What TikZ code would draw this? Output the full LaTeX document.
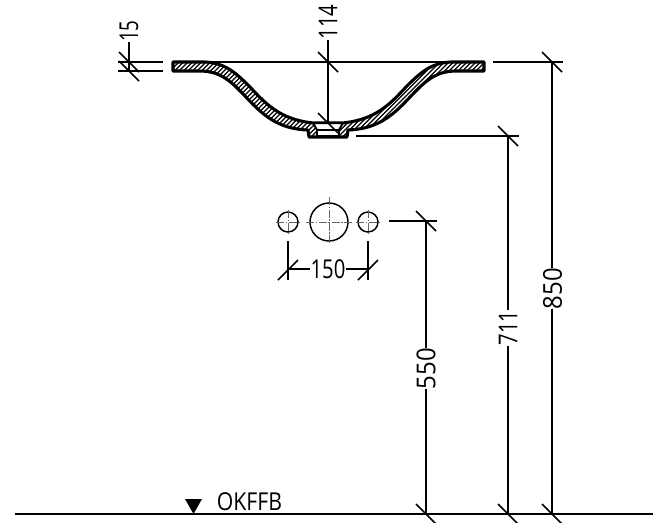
\documentclass[tikz,border=0pt]{standalone}
\usepackage{fontspec}
\setmainfont{Open Sans}
\newfontface\wdigits[FakeStretch=0.92]{Open Sans}
\newfontface\ndigits[FakeStretch=0.78]{Open Sans}
\newfontface\xdigits[FakeStretch=0.72]{Open Sans}
\newfontface\lettersface[FakeStretch=0.86]{Open Sans}
\begin{document}
\begin{tikzpicture}[x=0.75pt,y=-0.75pt,
  dimline/.style={line width=1.5pt,black},
  dimtick/.style={line width=1.2pt,black},
  profile/.style={line width=2.3pt,black,line join=round},
  funnel/.style={line width=1.5pt,black,fill=white,line join=round},
  axisline/.style={line width=0.5pt,gray!80!black,dash pattern=on 6pt off 1.2pt on 1.2pt off 1.2pt},
  hatchline/.style={line width=1pt,black},
  hole/.style={circle,draw,line width=1.1pt,inner sep=0pt},
  dimtext/.style={inner sep=0pt,font=\fontsize{19.5pt}{21pt}},
  vtext/.style={dimtext,rotate=90,anchor=center}]
\useasboundingbox (0,0) rectangle (653,522);
\def\basinprofile{(173,62) -- (205,62) .. controls (225,63) and (235,72) .. (250,87)
  .. controls (265,103) and (280,120) .. (314,123) -- (316,123) -- (340,123) -- (342,123)
  .. controls (376,120) and (391,103) .. (406,87) .. controls (421,72) and (431,63) .. (451,62)
  -- (484,62) -- (484,71) -- (457,71) .. controls (438,71) and (428,78) .. (412,95)
  .. controls (395,113) and (380,129) .. (348,130) -- (347,137) -- (309,137) -- (308,130)
  .. controls (276,129) and (261,113) .. (244,95) .. controls (228,78) and (218,71) .. (199,71)
  -- (173,71) -- cycle}
\begin{scope}
  \clip \basinprofile;
  \foreach \k in {-100,-95.5,...,300}{
    \draw[hatchline] (160+\k,145) -- (260+\k,45);
  }
\end{scope}
\draw[profile] \basinprofile;
\draw[funnel] (313,123) -- (343,123) -- (339,130) -- (317,130) -- cycle;
\draw[funnel] (317,130) rectangle (339,136);
% upper surface line
\coordinate (rimL) at (205,62);
\coordinate (rimR) at (451,62);
\draw[dimline] (rimL) -- (rimR);
% ground
\coordinate (g0) at (15,514);
\coordinate (g1) at (653,514);
\draw[dimline] (g0) -- (g1);
\fill[black] (185,499) -- (202,499) -- (193.5,514) -- cycle;
\node[inner sep=0pt,anchor=center,font=\fontsize{18.5pt}{19pt}\lettersface] (okffb) at (249.5,502) {OKFFB};
% holes
\node[hole,minimum size=15pt] (h1) at (288,222) {};
\node[hole,minimum size=28.5pt] (h2) at (329,222) {};
\node[hole,minimum size=15pt] (h3) at (368,222) {};
\draw[axisline] (276,222) -- (300,222);
\draw[axisline] (306,222) -- (352,222);
\draw[axisline] (356,222) -- (380,222);
\draw[axisline] (288,210) -- (288,234);
\draw[axisline] (329,197) -- (329,245);
\draw[axisline] (368,210) -- (368,234);
% dim 150
\coordinate (a1) at (288,241); \coordinate (a2) at (288,280);
\coordinate (b1) at (368,241); \coordinate (b2) at (368,280);
\coordinate (d1) at (288,269); \coordinate (d2) at (368,269);
\node[dimtext] (t150) at (328,269) {\ndigits 150};
\draw[dimtick] (a1) -- (a2) (b1) -- (b2);
\draw[dimtick] (d1) -- (d1 -| t150.west) (d2 -| t150.east) -- (d2);
\draw[dimtick] (278,280) -- (298,260) (358,280) -- (378,260);
% dim 15
\coordinate (e1) at (118,62); \coordinate (e2) at (163,62);
\coordinate (e3) at (118,71); \coordinate (e4) at (163,71);
\coordinate (e5) at (129,72);
\node[vtext] (t15) at (129,31) {\xdigits 15};
\draw[dimtick] (e1) -- (e2) (e3) -- (e4) (e5 |- t15.west) -- (e5);
\draw[dimtick] (119,52) -- (139,72) (119,61) -- (139,81);
% dim 114
\coordinate (f1) at (328,123);
\node[vtext] (t114) at (328,22) {\ndigits 114};
\draw[dimline] (f1 |- t114.west) -- (f1);
\draw[dimtick] (318,52) -- (338,72) (318,113) -- (338,133);
% dim 850
\coordinate (u1) at (493,62); \coordinate (u2) at (563,62);
\coordinate (u3) at (552,62); \coordinate (u4) at (552,514);
\node[vtext] (t850) at (552.5,288.5) {\wdigits 850};
\draw[dimline] (u1) -- (u2);
\draw[dimline] (u3) -- (u3 |- t850.east) (u3 |- t850.west) -- (u4);
\draw[dimtick] (542,52) -- (562,72) (542,504) -- (562,524);
% dim 711
\coordinate (v1) at (356,136); \coordinate (v2) at (519,136);
\coordinate (v3) at (508,136); \coordinate (v4) at (508,514);
\node[vtext] (t711) at (508,328) {\ndigits 711};
\draw[dimline] (v1) -- (v2);
\draw[dimline] (v3) -- (v3 |- t711.east) (v3 |- t711.west) -- (v4);
\draw[dimtick] (498,126) -- (518,146) (498,504) -- (518,524);
% dim 550
\coordinate (w1) at (389,221); \coordinate (w2) at (437,221);
\coordinate (w3) at (426,221); \coordinate (w4) at (426,514);
\node[vtext] (t550) at (426,368.5) {\wdigits 550};
\draw[dimline] (w1) -- (w2);
\draw[dimline] (w3) -- (w3 |- t550.east) (w3 |- t550.west) -- (w4);
\draw[dimtick] (416,211) -- (436,231) (416,504) -- (436,524);
\end{tikzpicture}
\end{document}
